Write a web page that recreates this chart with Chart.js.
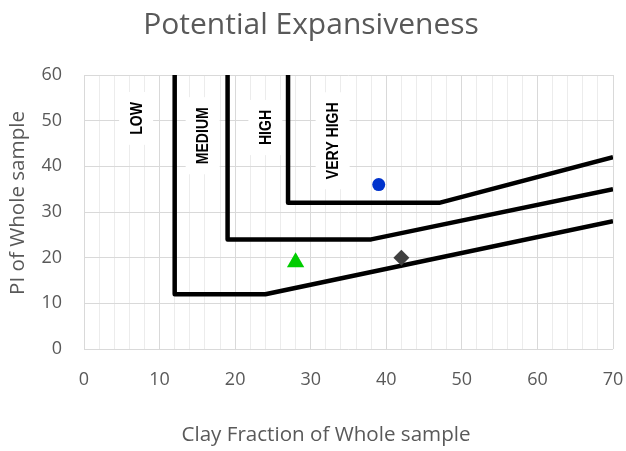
<!DOCTYPE html>
<html>
<head>
<meta charset="utf-8">
<script src="https://cdn.jsdelivr.net/npm/chart.js@4/dist/chart.umd.min.js"></script>
<style>
  html, body { margin: 0; padding: 0; background: #fff; }
  #wrap { width: 626px; height: 451px; }
</style>
</head>
<body>
<div id="wrap"><canvas id="chart"></canvas></div>
<script>
// zone boundaries, x = clay fraction, y = PI
const lowMedX = [12, 12, 24, 70];
const lowMedY = [60, 12, 12, 28];
const medHighX = [19, 19, 38, 70];
const medHighY = [60, 24, 24, 35];
const highVhX = [27, 27, 47, 70];
const highVhY = [60, 32, 32, 42];

// samples
const circleX = [39];
const circleY = [36];
const triangleX = [28];
const triangleY = [19];
const diamondX = [42];
const diamondY = [20];

// zone names and where they sit (data units)
const zoneNames = ['LOW', 'MEDIUM', 'HIGH', 'VERY HIGH'];
const zoneX = [6.9, 15.7, 24, 32.9];
const zoneY = [50.5, 46.7, 48.5, 45.6];

const xTickValues = [0, 10, 20, 30, 40, 50, 60, 70];
const yTickValues = [0, 10, 20, 30, 40, 50, 60];

const chartTitle = 'Potential Expansiveness';
const xTitle = 'Clay Fraction of Whole sample';
const yTitle = 'PI of Whole sample';

const grey = '#595959';

toPoints = (xs, ys) => xs.map((x, i) => ({ x: x, y: ys[i] }));

lineSet = (xs, ys) => ({
    data: toPoints(xs, ys),
    showLine: true,
    borderColor: '#000',
    borderWidth: 4.5,
    borderJoinStyle: 'round',
    pointRadius: 0,
    tension: 0,
    order: 2
});

/*
    white boxes with the rotated zone names, drawn over the grid
*/
const zoneLabels = {
    id: 'zoneLabels',
    beforeDatasetsDraw(chart) {
        const ctx = chart.ctx;
        const xs = chart.scales.x, ys = chart.scales.y;
        ctx.save();
        ctx.font = 'bold 16px "Liberation Sans", Arial, sans-serif';
        ctx.textAlign = 'center';
        ctx.textBaseline = 'middle';
        zoneNames.forEach((name, i) => {
            const px = xs.getPixelForValue(zoneX[i]);
            const py = ys.getPixelForValue(zoneY[i]);
            const w = ctx.measureText(name).width * 0.88;
            ctx.save();
            ctx.translate(px, py);
            ctx.rotate(-Math.PI / 2);
            ctx.fillStyle = '#fff';
            ctx.fillRect(-w / 2 - 10, -17, w + 20, 34);
            ctx.scale(0.88, 1);
            ctx.fillStyle = '#000';
            ctx.fillText(name, 0, 1);
            ctx.restore();
        });
        ctx.restore();
    }
};

// axis titles, placed like in the excel original
const axisTitles = {
    id: 'axisTitles',
    afterDraw(chart) {
        const ctx = chart.ctx;
        ctx.save();
        ctx.font = '20.6px "Open Sans", sans-serif';
        ctx.fillStyle = grey;
        ctx.textAlign = 'center';
        ctx.textBaseline = 'middle';
        ctx.fillText(xTitle, 326, 435);
        ctx.translate(18, 203);
        ctx.rotate(-Math.PI / 2);
        ctx.fillText(yTitle, 0, 0);
        ctx.restore();
    }
};

new Chart(document.getElementById('chart'), {
    type: 'scatter',
    data: {
        datasets: [
            { data: toPoints(circleX, circleY), pointStyle: 'circle', pointRadius: 6.5,
              backgroundColor: '#0033cc', borderColor: '#0033cc', borderWidth: 0, order: 0 },
            { data: toPoints(triangleX, triangleY), pointStyle: 'triangle', pointRadius: 10,
              backgroundColor: '#00cc00', borderColor: '#00cc00', borderWidth: 0, order: 0 },
            { data: toPoints(diamondX, diamondY), pointStyle: 'rectRot', pointRadius: 8,
              backgroundColor: '#404040', borderColor: '#404040', borderWidth: 0, order: 0 },
            lineSet(lowMedX, lowMedY),
            lineSet(medHighX, medHighY),
            lineSet(highVhX, highVhY)
        ]
    },
    options: {
        responsive: true,
        maintainAspectRatio: false,
        animation: false,
        layout: { padding: { left: 9, right: 13, top: 0, bottom: 0 } },
        plugins: {
            legend: { display: false },
            tooltip: { enabled: false },
            title: {
                display: true,
                text: chartTitle,
                color: grey,
                font: { family: '"Open Sans", sans-serif', size: 30, weight: 'normal' },
                padding: { top: 7, bottom: 32 }
            }
        },
        scales: {
            x: {
                type: 'linear',
                min: 0,
                max: 70,
                afterFit: (scale) => {
                    scale.height = 102;
                    scale.paddingLeft = 0;
                    scale.paddingRight = 0;
                },
                ticks: {
                    stepSize: 2,
                    autoSkip: false,
                    maxRotation: 0,
                    padding: 20,
                    color: grey,
                    font: { family: '"Open Sans", sans-serif', size: 18 },
                    callback: (v) => xTickValues.includes(v) ? String(v) : ''
                },
                grid: {
                    drawTicks: false,
                    color: (c) => xTickValues.includes(c.tick.value) ? '#d9d9d9' : '#ececec'
                },
                border: { display: false }
            },
            y: {
                type: 'linear',
                min: 0,
                max: 60,
                afterFit: (scale) => { scale.width = 75; },
                ticks: {
                    stepSize: 10,
                    padding: 22,
                    color: grey,
                    font: { family: '"Open Sans", sans-serif', size: 18 },
                    callback: (v) => yTickValues.includes(v) ? String(v) : ''
                },
                grid: { drawTicks: false, color: '#d9d9d9' },
                border: { display: false }
            }
        }
    },
    plugins: [zoneLabels, axisTitles]
});
</script>
</body>
</html>
